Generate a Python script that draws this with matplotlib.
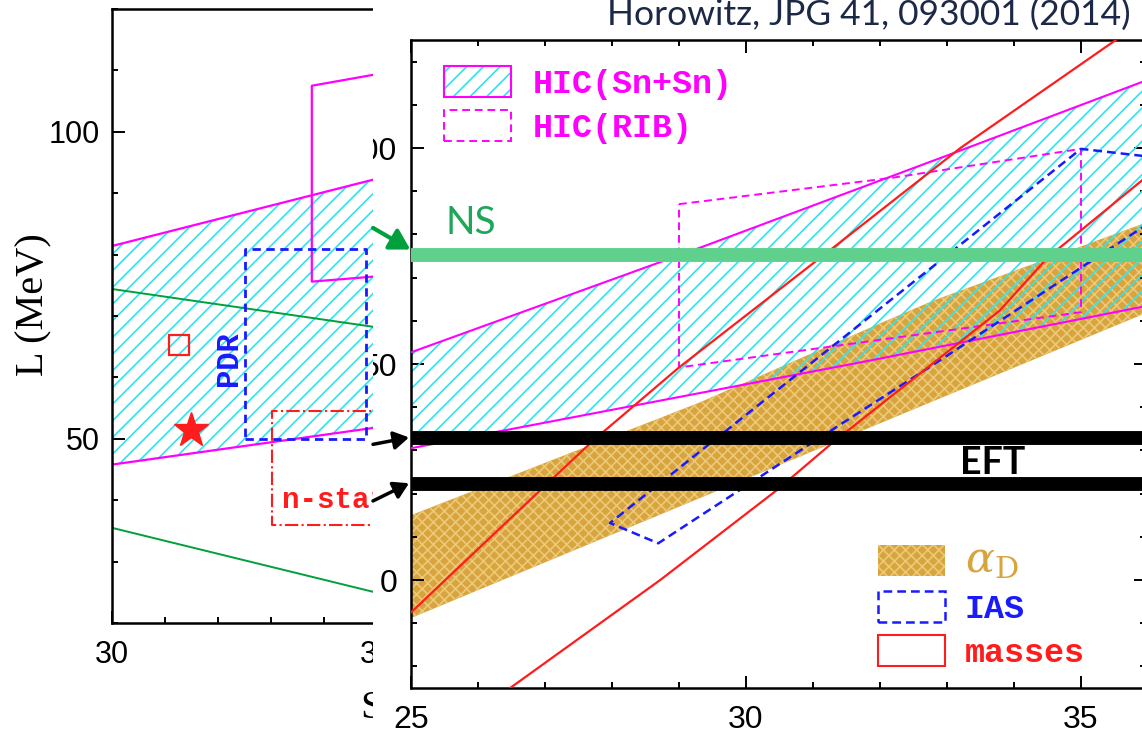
import matplotlib
matplotlib.use("Agg")
import matplotlib.pyplot as plt
from matplotlib.patches import Polygon, Patch
from matplotlib.legend_handler import HandlerTuple
from matplotlib.ticker import MultipleLocator

plt.rcParams['hatch.linewidth'] = 1.2
plt.rcParams['mathtext.fontset'] = 'dejavuserif'

W, H = 1142, 736

# ---------------- left (background) panel : S, L in MeV ----------------
lhic_S = [30.0, 35.2]
lhic_upper = [81.4, 92.8]
lhic_lower = [45.8, 52.1]
lgreen_S = [30.0, 35.2]
lgreen_a = [74.4, 67.9]
lgreen_b = [35.5, 24.5]
lbox_S = [35.2, 33.77, 33.77, 35.2]
lbox_L = [109.7, 107.5, 75.6, 76.6]
pdr_S = [32.5, 34.8, 34.8, 32.5, 32.5]
pdr_L = [50.0, 50.0, 80.9, 80.9, 50.0]
nstar_S = [35.2, 33.02, 33.02, 35.2]
nstar_L = [54.5, 54.5, 36.0, 36.0]
square_pt = (31.27, 65.2)
star_pt = (31.49, 51.5)

# ---------------- right (front) panel ----------------
hic_up_S = [25.0, 29.31, 33.06, 36.0]
hic_up_L = [52.7, 76.9, 98.6, 115.8]
hic_lo_S = [25.0, 31.85, 36.0]
hic_lo_L = [30.5, 50.8, 63.5]
rib_S = [29.0, 32.18, 35.0, 35.0, 29.0, 29.0]
rib_L = [87.0, 93.1, 99.8, 62.0, 49.2, 87.0]
ias_S = [36.3, 35.0, 27.97, 28.69, 31.0, 32.84, 35.0, 36.3]
ias_L = [97.5, 99.8, 13.2, 8.5, 31.9, 50.3, 72.3, 85.5]
ad_up_S = [25.0, 29.31, 32.0, 32.8, 36.0]
ad_up_L = [15.0, 41.1, 59.4, 64.7, 82.9]
ad_lo_S = [25.0, 33.79, 36.0]
ad_lo_L = [-8.8, 47.8, 62.0]
mass1_S = [25.0, 26.33, 27.72, 29.0, 31.3, 33.2, 35.52]
mass1_L = [-7.5, 12.0, 32.3, 49.2, 76.9, 100.0, 125.0]
mass2_S = [26.48, 28.72, 30.46, 31.3, 33.79, 34.5, 35.95]
mass2_L = [-25.0, 0.0, 20.8, 31.9, 62.4, 74.6, 93.0]
ns_L = 75.3
eft_L = [32.8, 22.2]

MAG = '#ff00ff'
CYAN = '#2de3ee'
BLUE = '#1a1aff'
RED = '#ff1c1c'
GOLD = '#d8a43e'
GOLD_H = '#ecc978'
GREEN = '#00a03c'
MONO = 'Liberation Mono'
SANS = 'Liberation Sans'
SERIF = 'Liberation Serif'


def fig_box(x0, y0, x1, y1):
    # pixel box (origin top-left) -> [left, bottom, width, height] in figure fraction
    return [x0 / W, 1 - y1 / H, (x1 - x0) / W, (y1 - y0) / H]


fig = plt.figure(figsize=(W / 100, H / 100), dpi=100)

# ---- left panel
ax_l = fig.add_axes(fig_box(112, 9, 642, 623), zorder=0)
ax_l.set_xlim(30, 40)
ax_l.set_ylim(20, 120)
ax_l.add_patch(Polygon(list(zip(lhic_S, lhic_upper)) + list(zip(lhic_S[::-1], lhic_lower[::-1])),
                       facecolor='none', edgecolor=CYAN, hatch='//', lw=0))
ax_l.plot(lhic_S, lhic_upper, color=MAG, lw=1.6)
ax_l.plot(lhic_S, lhic_lower, color=MAG, lw=1.6)
ax_l.plot(lgreen_S, lgreen_a, color=GREEN, lw=1.4)
ax_l.plot(lgreen_S, lgreen_b, color=GREEN, lw=1.4)
ax_l.plot(lbox_S, lbox_L, color=MAG, lw=1.6)
ax_l.plot(pdr_S, pdr_L, color=BLUE, lw=2, ls=(0, (3, 2)))
ax_l.plot(nstar_S, nstar_L, color=RED, lw=1.5, ls='-.')
ax_l.plot(*square_pt, marker='s', ms=14, mfc='none', mec=RED, mew=1.6)
ax_l.plot(*star_pt, marker='*', ms=26, color=RED)
ax_l.text(32.2, 63, 'PDR', rotation=90, color=BLUE, family=MONO, weight='bold',
          size=22, ha='center', va='center')
ax_l.text(33.2, 38.8, 'n-star', color=RED, family=MONO, weight='bold', size=21, va='baseline')
ax_l.text(34 / W, 1 - 305 / H, 'L (MeV)', rotation=90, family=SERIF, size=29,
          ha='center', va='center', transform=fig.transFigure)
ax_l.text(361 / W, 1 - 709 / H, 'S (MeV)', family=SERIF, size=29,
          ha='left', va='center', transform=fig.transFigure)
ax_l.xaxis.set_major_locator(MultipleLocator(5))
ax_l.xaxis.set_minor_locator(MultipleLocator(1))
ax_l.yaxis.set_major_locator(MultipleLocator(50))
ax_l.yaxis.set_minor_locator(MultipleLocator(10))
ax_l.tick_params(which='both', direction='in', width=1.4, labelsize=22)
ax_l.tick_params(which='major', length=9)
ax_l.tick_params(which='minor', length=4.5)
ax_l.tick_params(axis='x', pad=12)
ax_l.tick_params(axis='y', pad=9)
for lab in ax_l.get_xticklabels() + ax_l.get_yticklabels():
    lab.set_family(SANS)
for s in ax_l.spines.values():
    s.set_linewidth(1.8)
ax_l.spines['right'].set_visible(False)

# ---- white cover panel
ax_p = fig.add_axes(fig_box(373, 0, W, H), zorder=1)
ax_p.set_xticks([])
ax_p.set_yticks([])
for s in ax_p.spines.values():
    s.set_visible(False)
ax_p.text(607 / W, 1 - 25 / H, 'Horowitz, JPG 41, 093001 (2014)', transform=fig.transFigure,
          family='Lato', size=25.5, color='#1c2848', ha='left', va='baseline')

# ---- right panel
ax_r = fig.add_axes(fig_box(411, 40, 1146, 688), zorder=2)
ax_r.set_facecolor('none')
ax_r.set_xlim(25, 25 + 735 / 67)
ax_r.set_ylim(-25, 125)

ax_r.add_patch(Polygon(list(zip(ad_up_S, ad_up_L)) + list(zip(ad_lo_S[::-1], ad_lo_L[::-1])),
                       facecolor=GOLD, edgecolor=GOLD_H, hatch='xxx', lw=0, zorder=1))
ax_r.add_patch(Polygon(list(zip(hic_up_S, hic_up_L)) + list(zip(hic_lo_S[::-1], hic_lo_L[::-1])),
                       facecolor='none', edgecolor=CYAN, hatch='//', lw=0, zorder=2))
ax_r.plot(hic_up_S, hic_up_L, color=MAG, lw=1.5, zorder=3)
ax_r.plot(hic_lo_S, hic_lo_L, color=MAG, lw=1.5, zorder=3)
ax_r.plot(rib_S, rib_L, color=MAG, lw=1.4, ls=(0, (4, 2.5)), zorder=3)
ax_r.plot(ias_S, ias_L, color=BLUE, lw=1.8, ls=(0, (3.5, 2)), zorder=3)
ax_r.plot(mass1_S, mass1_L, color=RED, lw=1.6, zorder=3)
ax_r.plot(mass2_S, mass2_L, color=RED, lw=1.6, zorder=3)
ax_r.axhline(ns_L, color='#5fd18c', lw=10, solid_capstyle='butt', zorder=4)
for L in eft_L:
    ax_r.axhline(L, color='black', lw=10, solid_capstyle='butt', zorder=4)
ax_r.text(25.52, 80.1, 'NS', color='#1ea65b', family='Lato', size=28, va='baseline', zorder=5)
ax_r.text(33.2, 24.6, 'EFT', color='black', family='Lato', weight='bold', size=27,
          va='baseline', zorder=5)

x_arrow = 25 - (411 - 373) / 67
ax_r.annotate('', xy=(24.99, 76.5), xytext=(x_arrow, 81.5), annotation_clip=False,
              arrowprops=dict(arrowstyle='-|>,head_length=0.6,head_width=0.35',
                              color=GREEN, lw=3, mutation_scale=20, shrinkA=0, shrinkB=0))
ax_r.annotate('', xy=(24.97, 33.0), xytext=(x_arrow, 31.4), annotation_clip=False,
              arrowprops=dict(arrowstyle='-|>,head_length=0.5,head_width=0.3',
                              color='black', lw=2.5, mutation_scale=18, shrinkA=0, shrinkB=0))
ax_r.annotate('', xy=(24.97, 22.4), xytext=(x_arrow, 18.3), annotation_clip=False,
              arrowprops=dict(arrowstyle='-|>,head_length=0.5,head_width=0.3',
                              color='black', lw=2.5, mutation_scale=18, shrinkA=0, shrinkB=0))

ax_r.xaxis.set_major_locator(MultipleLocator(5))
ax_r.xaxis.set_minor_locator(MultipleLocator(1))
ax_r.set_yticks([0, 50, 100])
ax_r.yaxis.set_minor_locator(MultipleLocator(10))
ax_r.tick_params(which='both', direction='in', top=True, right=True, width=1.4, labelsize=23)
ax_r.tick_params(which='major', length=9)
ax_r.tick_params(which='minor', length=4.5)
ax_r.tick_params(axis='x', pad=12)
ax_r.tick_params(axis='y', pad=10)
for s in ax_r.spines.values():
    s.set_linewidth(1.8)
for t in ax_r.xaxis.get_major_ticks() + ax_r.yaxis.get_major_ticks():
    t.label1.set_family(SANS)
    t.label1.set_clip_box(ax_p.bbox)
    t.label1.set_clip_on(True)

leg_prop = dict(family=MONO, weight='bold', size=24)
hic_handle = (Patch(facecolor='none', edgecolor=CYAN, hatch='//', lw=0),
              Patch(facecolor='none', edgecolor=MAG, lw=1.5))
rib_handle = Patch(facecolor='none', edgecolor=MAG, lw=1.4, ls=(0, (4, 2.5)))
leg1 = ax_r.legend([hic_handle, rib_handle], ['HIC(Sn+Sn)', 'HIC(RIB)'],
                   handler_map={tuple: HandlerTuple(ndivide=1, pad=0)},
                   loc='upper left', bbox_to_anchor=((444 - 411) / 735, (688 - 66) / 648),
                   borderaxespad=0, borderpad=0, frameon=False, prop=leg_prop,
                   handlelength=2.0, handleheight=1.05, handletextpad=0.65,
                   labelspacing=0.3, labelcolor=MAG)
ax_r.add_artist(leg1)

ad_handle = Patch(facecolor=GOLD, edgecolor=GOLD_H, hatch='xxx', lw=0)
ias_handle = Patch(facecolor='none', edgecolor=BLUE, lw=1.8, ls=(0, (3.5, 2)))
mass_handle = Patch(facecolor='none', edgecolor=RED, lw=1.5)
leg2 = ax_r.legend([ad_handle, ias_handle, mass_handle],
                   [r'$\alpha_{\mathrm{D}}$', 'IAS', 'masses'],
                   loc='upper left', bbox_to_anchor=((878 - 411) / 735, (688 - 541) / 648),
                   borderaxespad=0, borderpad=0, frameon=False, prop=leg_prop,
                   handlelength=2.0, handleheight=1.05, handletextpad=0.6,
                   labelspacing=0.3, labelcolor=[GOLD, BLUE, RED])
leg2.get_texts()[0].set_fontsize(31)
leg2.set_zorder(6)

fig.savefig('out.png', dpi=100)
